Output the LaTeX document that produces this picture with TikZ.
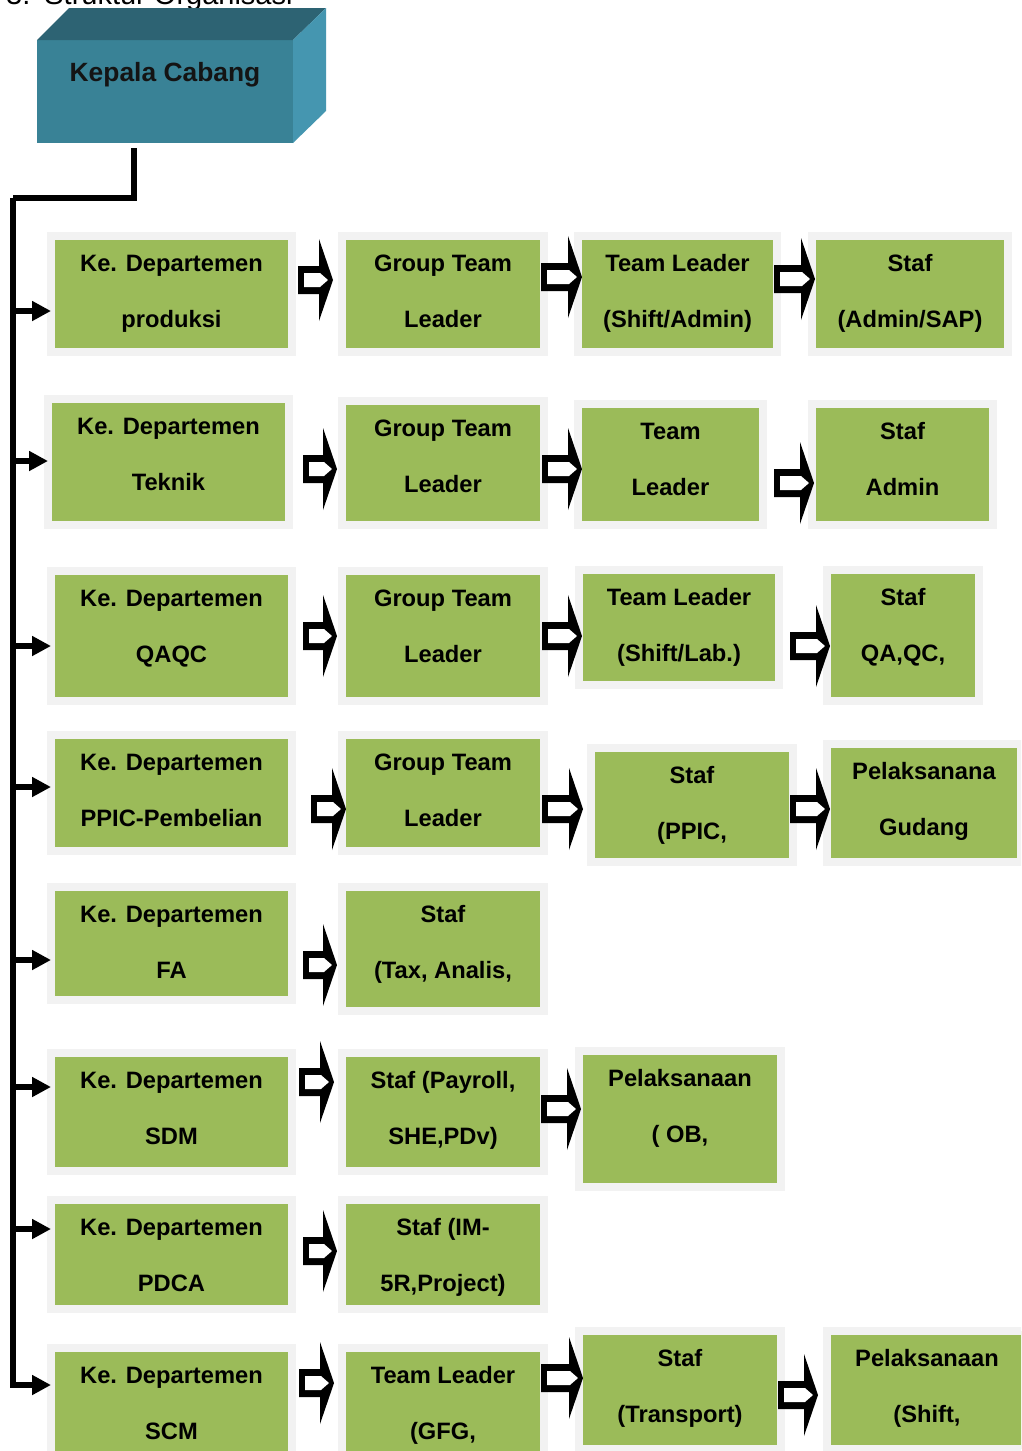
\documentclass[tikz,border=0pt]{standalone}
\usepackage{fontspec}
\setmainfont{Liberation Sans}
\usetikzlibrary{arrows.meta}
\definecolor{boxgreen}{HTML}{9BBB59}
\definecolor{framegray}{HTML}{F2F2F2}
\definecolor{kcfront}{HTML}{398296}
\definecolor{kctop}{HTML}{2D6373}
\definecolor{kcside}{HTML}{4596B0}
\tikzset{
  gbox/.style={fill=boxgreen, draw=framegray, line width=8pt, inner sep=0pt, outer sep=0pt},
  txt/.style={font=\fontsize{23.7}{28}\selectfont\bfseries, inner sep=0pt, text=black},
  spine/.style={line width=6pt, line join=miter, draw=black},
  branch/.style={line width=6pt, draw=black, -{Triangle[length=19pt,width=19pt]}},
}
\newcommand{\orgbox}[7]{%
  \node[gbox, minimum width={(#4-#2+8)*1pt}, minimum height={(#5-#3+8)*1pt}] (#1) at ({(#2+#4)/2},{(#3+#5)/2}) {};
  \node[txt, anchor=base] (#1a) at ([yshift=-35.5pt]#1.north) {#6};
  \node[txt, anchor=base] (#1b) at ([yshift=-91pt]#1.north) {#7};
}
\newcommand{\blkarrow}[3]{%
  \fill[black] (#1,{#3-14}) -- ({#2-14},{#3-14}) -- ({#2-14},{#3-41}) -- (#2,#3) -- ({#2-14},{#3+41}) -- ({#2-14},{#3+14}) -- (#1,{#3+14}) -- cycle;
  \fill[white] ({#1+6},{#3-7}) -- ({#2-13},{#3-7}) -- ({#2-5},#3) -- ({#2-13},{#3+7}) -- ({#1+6},{#3+7}) -- cycle;
}
\begin{document}
\begin{tikzpicture}[x=1pt,y=-1pt]
\useasboundingbox (0,0) rectangle (1021,1451);
\clip (0,0) rectangle (1021,1451);
\fill[white] (0,0) rectangle (1021,1451);

% title (cut off at the top)
\node[anchor=base west, inner sep=0pt, font=\fontsize{29}{32}\selectfont] (title) at (6,4) {3.\hspace{14pt}Struktur Organisasi};

% Kepala Cabang 3D box
\node[fill=kcfront, minimum width=256pt, minimum height=103pt, inner sep=0pt, outer sep=0pt] (kc) at (165,91.5) {};
\fill[kctop] (kc.north west) -- ++(32,-32) -- ++(257,0) -- (kc.north east) -- cycle;
\fill[kcside] (kc.north east) -- ++(33,-32) -- ++(0,103) -- (kc.south east) -- cycle;
\node[font=\fontsize{26.4}{30}\selectfont\bfseries, anchor=base, inner sep=0pt, text=black!92] (kct) at ([yshift=-41pt]kc.north) {Kepala Cabang};

% boxes
\orgbox{d1}{55}{240}{288}{348}{Ke. Departemen}{produksi}
\orgbox{r1b}{346}{240}{540}{348}{Group Team}{Leader}
\orgbox{r1c}{582}{240}{773}{348}{Team Leader}{(Shift/Admin)}
\orgbox{r1d}{816}{240}{1004}{348}{Staf}{(Admin/SAP)}
\orgbox{d2}{52}{403}{285}{521}{Ke. Departemen}{Teknik}
\orgbox{r2b}{346}{405}{540}{521}{Group Team}{Leader}
\orgbox{r2c}{582}{408}{759}{521}{Team}{Leader}
\orgbox{r2d}{816}{408}{989}{521}{Staf}{Admin}
\orgbox{d3}{55}{575}{288}{697}{Ke. Departemen}{QAQC}
\orgbox{r3b}{346}{575}{540}{697}{Group Team}{Leader}
\orgbox{r3c}{583}{574}{775}{681}{Team Leader}{(Shift/Lab.)}
\orgbox{r3d}{831}{574}{975}{697}{Staf}{QA,QC,}
\orgbox{d4}{55}{739}{288}{847}{Ke. Departemen}{PPIC-Pembelian}
\orgbox{r4b}{346}{739}{540}{847}{Group Team}{Leader}
\orgbox{r4c}{595}{752}{789}{858}{Staf}{(PPIC,}
\orgbox{r4d}{831}{748}{1017}{858}{Pelaksanana}{Gudang}
\orgbox{d5}{55}{891}{288}{996}{Ke. Departemen}{FA}
\orgbox{r5b}{346}{891}{540}{1007}{Staf}{(Tax, Analis,}
\orgbox{d6}{55}{1057}{288}{1167}{Ke. Departemen}{SDM}
\orgbox{r6b}{346}{1057}{540}{1167}{Staf (Payroll,}{SHE,PDv)}
\orgbox{r6c}{583}{1055}{777}{1183}{Pelaksanaan}{( OB,}
\orgbox{d7}{55}{1204}{288}{1305}{Ke. Departemen}{PDCA}
\orgbox{r7b}{346}{1204}{540}{1305}{Staf (IM-}{5R,Project)}
\orgbox{d8}{55}{1352}{288}{1462}{Ke. Departemen}{SCM}
\orgbox{r8b}{346}{1352}{540}{1462}{Team Leader}{(GFG,}
\orgbox{r8c}{583}{1335}{777}{1445}{Staf}{(Transport)}
\orgbox{r8d}{831}{1335}{1023}{1445}{Pelaksanaan}{(Shift,}

% block arrows
\blkarrow{298}{333}{280}
\blkarrow{541}{582}{277}
\blkarrow{774}{815}{279}
\blkarrow{303}{337}{469}
\blkarrow{542}{582}{469}
\blkarrow{774}{814}{483}
\blkarrow{303}{337}{636}
\blkarrow{542}{582}{636}
\blkarrow{790}{830}{646}
\blkarrow{311}{346}{809}
\blkarrow{542}{583}{809}
\blkarrow{790}{830}{809}
\blkarrow{303}{337}{965}
\blkarrow{299}{334}{1082}
\blkarrow{541}{581}{1109}
\blkarrow{303}{337}{1251}
\blkarrow{299}{334}{1383}
\blkarrow{541}{583}{1378}
\blkarrow{778}{818}{1395}

% spine and branches
\coordinate (top) at (134,148);
\coordinate (bend) at (13,197.5);
\coordinate (s1) at (13,311);
\coordinate (s2) at (13,461);
\coordinate (s3) at (13,646);
\coordinate (s4) at (13,787);
\coordinate (s5) at (13,960);
\coordinate (s6) at (13,1087);
\coordinate (s7) at (13,1229);
\coordinate (s8) at (13,1385);
\draw[spine] (top) |- (bend);
\draw[branch, line join=miter] (bend) |- (s8 -| d8.west);
\foreach \i in {1,...,7} {\draw[branch] (s\i) -- (s\i -| d\i.west);}
\end{tikzpicture}
\end{document}
